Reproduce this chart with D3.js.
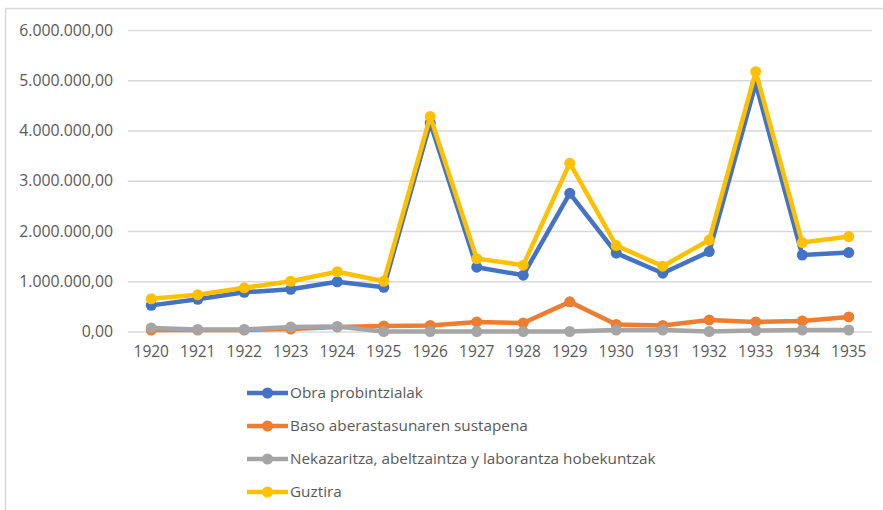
<!DOCTYPE html>
<html>
<head>
<meta charset="utf-8">
<script src="https://cdn.jsdelivr.net/npm/d3@7"></script>
<style>
  body { margin: 0; background: #fff; }
  svg text { font-family: "Open Sans", "Noto Sans", sans-serif; fill: #595959; }
</style>
</head>
<body>
<div id="chart"></div>
<script>
var width = 883
var height = 510

// data
var years = ["1920", "1921", "1922", "1923", "1924", "1925", "1926", "1927",
             "1928", "1929", "1930", "1931", "1932", "1933", "1934", "1935"]

var obra = [520000, 640000, 780000, 840000, 990000, 880000, 4150000, 1280000,
            1120000, 2750000, 1560000, 1160000, 1590000, 4930000, 1520000, 1570000]
var baso = [30000, 30000, 30000, 50000, 90000, 110000, 120000, 190000,
            170000, 590000, 140000, 120000, 230000, 190000, 210000, 290000]
var nekazaritza = [70000, 40000, 40000, 90000, 100000, 0, 0, 0,
                   0, 0, 30000, 30000, 0, 20000, 30000, 30000]
var guztira = [650000, 730000, 870000, 1000000, 1190000, 1000000, 4280000, 1450000,
               1320000, 3350000, 1710000, 1300000, 1820000, 5170000, 1770000, 1890000]

var yTicks = [0, 1000000, 2000000, 3000000, 4000000, 5000000, 6000000]

var seriesNames = ["Obra probintzialak", "Baso aberastasunaren sustapena",
                   "Nekazaritza, abeltzaintza y laborantza hobekuntzak", "Guztira"]
var colors = ["#4472c4", "#ed7d31", "#a5a5a5", "#ffc000"]

var series = [obra, baso, nekazaritza, guztira]

var margin = {left: 128, right: 11, top: 30, bottom: 178}

var svg = d3.select("#chart")
    .append("svg")
    .attr("width", width)
    .attr("height", height)

// outer frame (only top and left visible)
svg.append("path")
    .attr("d", "M5.5,520 V8.5 H890")
    .attr("fill", "none")
    .attr("stroke", "#d9d9d9")
    .attr("stroke-width", 1.5)

var x = d3.scaleBand()
    .domain(years)
    .range([margin.left, width - margin.right])

var y = d3.scaleLinear()
    .domain([0, 6000000])
    .range([height - margin.bottom - 0.5, margin.top])

// format like 6.000.000,00
var fmt = d3.formatLocale({decimal: ",", thousands: ".", grouping: [3], currency: ["", ""]}).format(",.2f")

var yAxis = d3.axisLeft(y)
    .tickValues(yTicks)
    .tickSize(-(width - margin.left - margin.right))
    .tickPadding(15)
    .tickFormat(fmt)

var gy = svg.append("g")
    .attr("transform", "translate(" + margin.left + ",0)")
    .call(yAxis)
gy.select(".domain").remove()
gy.selectAll("line").attr("stroke", "#d9d9d9").attr("stroke-width", 1.3)
gy.selectAll("text").attr("font-size", "15.8px").style("fill", "#595959")

var xAxis = d3.axisBottom(x).tickSize(0).tickPadding(14)
var gx = svg.append("g")
    .attr("transform", "translate(0," + y(0) + ")")
    .call(xAxis)
gx.select(".domain").remove()
gx.selectAll("text").attr("font-size", "15.5px").style("fill", "#595959")

var line = d3.line()
    .x((d, i) => x(years[i]) + x.bandwidth() / 2)
    .y(d => y(d))

series.forEach(function(vals, k){
    var g = svg.append("g")
    g.append("path")
        .datum(vals)
        .attr("d", line)
        .attr("fill", "none")
        .attr("stroke", colors[k])
        .attr("stroke-width", 4.5)
        .attr("stroke-linejoin", "round")
    g.selectAll("circle")
        .data(vals)
        .enter()
        .append("circle")
        .attr("cx", (d, i) => x(years[i]) + x.bandwidth() / 2)
        .attr("cy", d => y(d))
        .attr("r", 5.5)
        .attr("fill", colors[k])
})

// legend
var legend = svg.append("g")
    .selectAll("g")
    .data(seriesNames)
    .enter()
    .append("g")
    .attr("transform", (d, i) => "translate(247," + (393 + i * 33) + ")")

legend.append("line")
    .attr("x1", 0).attr("x2", 41)
    .attr("stroke", (d, i) => colors[i])
    .attr("stroke-width", 4.5)
legend.append("circle")
    .attr("cx", 20.5)
    .attr("r", 5.5)
    .attr("fill", (d, i) => colors[i])
legend.append("text")
    .attr("x", 43)
    .attr("dy", "0.35em")
    .attr("font-size", "15.3px")
    .text(d => d)
</script>
</body>
</html>
